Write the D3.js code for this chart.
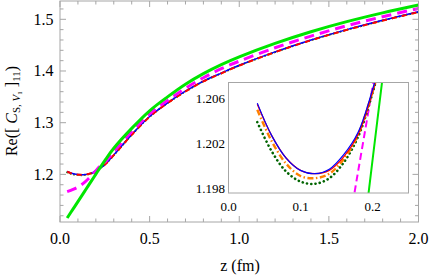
<!DOCTYPE html>
<html>
<head>
<meta charset="utf-8">
<script src="https://cdn.jsdelivr.net/npm/d3@7"></script>
<style>
  body { margin: 0; background: #fff; }
  svg { display: block; }
  text { font-family: "Liberation Serif", "Times New Roman", Times, serif; }
</style>
</head>
<body>
<div id="chart"></div>
<script>
// z grid (fm) shared by all curves
const zVals = [0.04, 0.06, 0.08, 0.10, 0.12, 0.14, 0.16, 0.18, 0.20, 0.22, 0.25, 0.30,
  0.40, 0.50, 0.60, 0.70, 0.80, 0.90, 1.00, 1.20, 1.40, 1.60, 1.80, 2.00];

const blueVals = [1.2056, 1.2027, 1.2007, 1.1996, 1.1993, 1.1997, 1.2010, 1.2030, 1.2068, 1.2115, 1.2190, 1.2375,
  1.2770, 1.3120, 1.3385, 1.3610, 1.3805, 1.3960, 1.4110, 1.4370, 1.4600, 1.4800, 1.4980, 1.5145];
const redVals = [1.2055, 1.2027, 1.2007, 1.1996, 1.1993, 1.1996, 1.2008, 1.2028, 1.2066, 1.2113, 1.2188, 1.2372,
  1.2765, 1.3115, 1.3380, 1.3605, 1.3800, 1.3955, 1.4105, 1.4365, 1.4595, 1.4795, 1.4975, 1.5140];
const orangeVals = [1.2050, 1.2022, 1.2002, 1.1991, 1.1989, 1.1993, 1.2006, 1.2028, 1.2066, 1.2113, 1.2188, 1.2372,
  1.2765, 1.3115, 1.3380, 1.3605, 1.3800, 1.3955, 1.4105, 1.4365, 1.4595, 1.4795, 1.4975, 1.5140];
const dkGreenVals = [1.2039, 1.2013, 1.1995, 1.1986, 1.1984, 1.1989, 1.2003, 1.2026, 1.2065, 1.2113, 1.2188, 1.2372,
  1.2765, 1.3115, 1.3380, 1.3605, 1.3800, 1.3955, 1.4105, 1.4365, 1.4595, 1.4795, 1.4975, 1.5140];
const magentaVals = [1.1666, 1.1690, 1.1720, 1.1755, 1.1800, 1.1855, 1.1920, 1.1995, 1.2070, 1.2145, 1.2230, 1.2440,
  1.2825, 1.3170, 1.3430, 1.3665, 1.3870, 1.4045, 1.4190, 1.4450, 1.4675, 1.4875, 1.5050, 1.5210];
const greenVals = [1.1157, 1.1262, 1.1368, 1.1474, 1.1580, 1.1686, 1.1792, 1.1898, 1.2005, 1.2110, 1.2265, 1.2505,
  1.2890, 1.3230, 1.3500, 1.3745, 1.3950, 1.4125, 1.4275, 1.4535, 1.4760, 1.4955, 1.5125, 1.5277];

// tick labels
const xTicks = [0.0, 0.5, 1.0, 1.5, 2.0];
const yTicks = [1.2, 1.3, 1.4, 1.5];
const insetXTicks = [0.0, 0.1, 0.2];
const insetYTicks = [1.198, 1.202, 1.206];

const W = 431, H = 278;
const frame = { left: 60, right: 418.5, top: 1, bottom: 222 };
const inset = { left: 228.5, right: 408.5, top: 82.5, bottom: 193 };

const svg = d3.select("#chart").append("svg")
  .attr("width", W).attr("height", H);

const x = d3.scaleLinear().domain([0, 2]).range([frame.left, frame.right]);
const y = d3.scaleLinear().domain([1.1079, 1.5354]).range([frame.bottom, frame.top]);

const xi = d3.scaleLinear().domain([0, 0.25]).range([inset.left, inset.right]);
const yi = d3.scaleLinear().domain([1.19758, 1.20744]).range([inset.bottom, inset.top]);

const series = [
  { name: "dkgreen", vals: dkGreenVals, color: "#006400" },
  { name: "orange", vals: orangeVals, color: "#ff8000" },
  { name: "blue", vals: blueVals, color: "#0000ff" },
  { name: "red", vals: redVals, color: "#ff0000" },
  { name: "magenta", vals: magentaVals, color: "#ff00ff" },
  { name: "green", vals: greenVals, color: "#00e600" }
];

const mainStyle = {
  dkgreen: { w: 2, dash: "0.1,3.5", cap: "round" },
  orange: { w: 2, dash: "5,2,1,2", cap: "butt" },
  blue: { w: 1.5, dash: null, cap: "butt" },
  red: { w: 1.8, dash: "5,5", cap: "butt" },
  magenta: { w: 3, dash: "10,6", cap: "butt" },
  green: { w: 3, dash: null, cap: "butt" }
};
const insetStyle = {
  green: { w: 2, dash: null, cap: "butt" },
  magenta: { w: 2, dash: "7,4", cap: "butt" },
  dkgreen: { w: 2.6, dash: "0.1,4.2", cap: "round" },
  orange: { w: 2.4, dash: "6,2.5,1.5,2.5", cap: "butt" },
  red: { w: 1.3, dash: null, cap: "butt" },
  blue: { w: 1.2, dash: null, cap: "butt" }
};

const toPts = (vals) => zVals.map((z, i) => ({ z: z, v: vals[i] }));

// clip paths
const defs = svg.append("defs");
defs.append("clipPath").attr("id", "clipMain").append("rect")
  .attr("x", frame.left).attr("y", frame.top)
  .attr("width", frame.right - frame.left).attr("height", frame.bottom - frame.top);
defs.append("clipPath").attr("id", "clipInset").append("rect")
  .attr("x", inset.left).attr("y", inset.top)
  .attr("width", inset.right - inset.left).attr("height", inset.bottom - inset.top);

const frameColor = "#a6a6a6";

// main curves
const lineMain = d3.line().x(d => x(d.z)).y(d => y(d.v)).curve(d3.curveCatmullRom.alpha(0.5));
const gMain = svg.append("g").attr("clip-path", "url(#clipMain)");
series.forEach(s => {
  const st = mainStyle[s.name];
  gMain.append("path")
    .datum(toPts(s.vals))
    .attr("d", lineMain)
    .attr("fill", "none")
    .attr("stroke", s.color)
    .attr("stroke-width", st.w)
    .attr("stroke-linecap", st.cap)
    .attr("stroke-dasharray", st.dash);
});

// main frame with inward ticks on all sides
svg.append("rect")
  .attr("x", frame.left).attr("y", frame.top)
  .attr("width", frame.right - frame.left).attr("height", frame.bottom - frame.top)
  .attr("fill", "none").attr("stroke", frameColor).attr("stroke-width", 1);

const xMinor = d3.range(0, 2.001, 0.1);
const yMinor = d3.range(1.12, 1.5355, 0.02);
const tickG = svg.append("g").attr("stroke", frameColor).attr("stroke-width", 1);
xMinor.forEach(t => {
  const major = Math.abs(t * 2 - Math.round(t * 2)) < 1e-6;
  const len = major ? 6 : 3.5;
  tickG.append("line").attr("x1", x(t)).attr("x2", x(t))
    .attr("y1", frame.bottom).attr("y2", frame.bottom - len);
  tickG.append("line").attr("x1", x(t)).attr("x2", x(t))
    .attr("y1", frame.top).attr("y2", frame.top + len);
});
yMinor.forEach(t => {
  const major = Math.abs(t * 10 - Math.round(t * 10)) < 1e-6;
  const len = major ? 6 : 3.5;
  tickG.append("line").attr("x1", frame.left).attr("x2", frame.left + len)
    .attr("y1", y(t)).attr("y2", y(t));
  tickG.append("line").attr("x1", frame.right).attr("x2", frame.right - len)
    .attr("y1", y(t)).attr("y2", y(t));
});

// main tick labels
svg.append("g").selectAll("text").data(xTicks).join("text")
  .attr("x", d => x(d)).attr("y", 244)
  .attr("text-anchor", "middle")
  .style("font-size", "16px")
  .text(d => d.toFixed(1));
svg.append("g").selectAll("text").data(yTicks).join("text")
  .attr("x", 53.5).attr("y", d => y(d) + 5.5)
  .attr("text-anchor", "end")
  .style("font-size", "16px")
  .text(d => d.toFixed(1));

// axis titles
svg.append("text")
  .attr("x", 240).attr("y", 271)
  .attr("text-anchor", "middle")
  .style("font-size", "16px")
  .text("z (fm)");

const yTitle = svg.append("text")
  .attr("transform", "translate(17,111) rotate(-90)")
  .attr("text-anchor", "middle")
  .style("font-size", "16px");
yTitle.append("tspan").text("Re([ ");
yTitle.append("tspan").style("font-style", "italic").text("C");
yTitle.append("tspan").attr("dy", 3).style("font-size", "11px").text("S, ");
yTitle.append("tspan").style("font-size", "11px").style("font-style", "italic").text("V");
yTitle.append("tspan").attr("dy", 2).style("font-size", "7px").text("1");
yTitle.append("tspan").attr("dy", -5).text(" ]");
yTitle.append("tspan").attr("dy", 3).style("font-size", "11px").text("11");
yTitle.append("tspan").attr("dy", -3).text(")");

// inset
svg.append("rect")
  .attr("x", inset.left).attr("y", inset.top)
  .attr("width", inset.right - inset.left).attr("height", inset.bottom - inset.top)
  .attr("fill", "#fff");

const lineInset = d3.line().x(d => xi(d.z)).y(d => yi(d.v)).curve(d3.curveCatmullRom.alpha(0.5));
const gInset = svg.append("g").attr("clip-path", "url(#clipInset)");
["green", "magenta", "dkgreen", "orange", "red", "blue"].forEach(name => {
  const s = series.find(d => d.name === name);
  const st = insetStyle[name];
  gInset.append("path")
    .datum(toPts(s.vals))
    .attr("d", lineInset)
    .attr("fill", "none")
    .attr("stroke", s.color)
    .attr("stroke-width", st.w)
    .attr("stroke-linecap", st.cap)
    .attr("stroke-dasharray", st.dash);
});

svg.append("rect")
  .attr("x", inset.left).attr("y", inset.top)
  .attr("width", inset.right - inset.left).attr("height", inset.bottom - inset.top)
  .attr("fill", "none").attr("stroke", frameColor).attr("stroke-width", 1);

svg.append("g").selectAll("text").data(insetXTicks).join("text")
  .attr("x", d => xi(d)).attr("y", 211)
  .attr("text-anchor", "middle")
  .style("font-size", "13px")
  .text(d => d.toFixed(1));
svg.append("g").selectAll("text").data(insetYTicks).join("text")
  .attr("x", 225).attr("y", d => yi(d) + 4.5)
  .attr("text-anchor", "end")
  .style("font-size", "13px")
  .text(d => d.toFixed(3));
</script>
</body>
</html>
